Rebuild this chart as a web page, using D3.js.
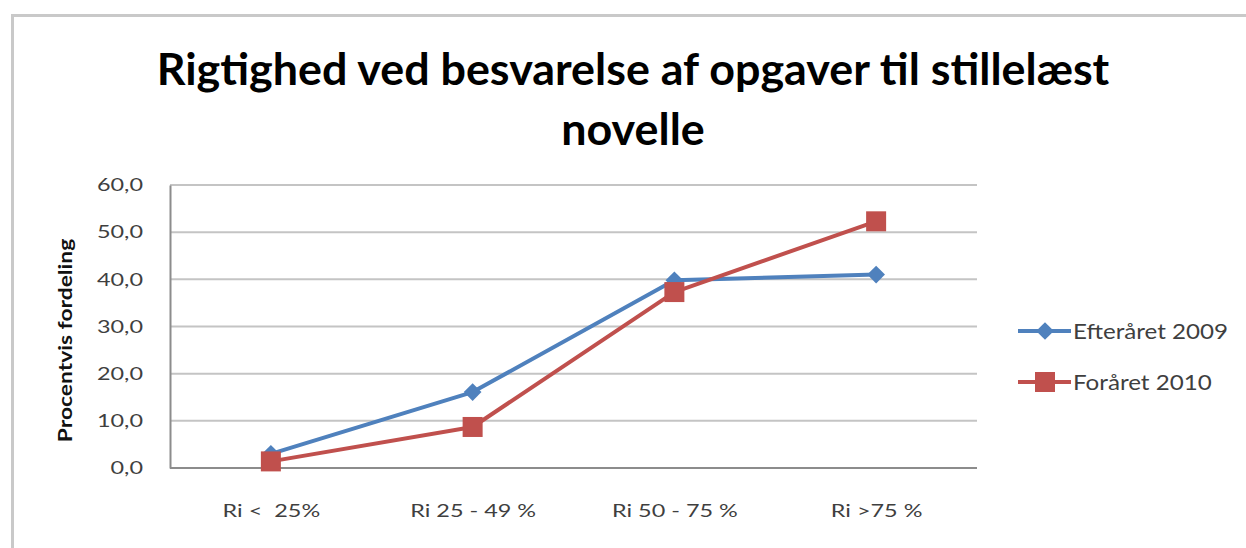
<!DOCTYPE html>
<html>
<head>
<meta charset="utf-8">
<script src="https://cdn.jsdelivr.net/npm/d3@7"></script>
<style>
  html, body { margin: 0; padding: 0; background: #fff; }
  svg { display: block; }
  text { font-family: Lato, "Open Sans", sans-serif; white-space: pre; }
</style>
</head>
<body>
<svg id="chart" width="1246" height="548"></svg>
<script>
// data
const categories = ['Ri <  25%', 'Ri 25 - 49 %', 'Ri 50 - 75 %', 'Ri >75 %']
const efteraaret2009 = [3.0, 16.1, 39.8, 41.0]
const foraaret2010 = [1.4, 8.7, 37.3, 52.3]
const yTicks = [0, 10, 20, 30, 40, 50, 60]
const seriesNames = ['Efteråret 2009', 'Foråret 2010']
const titleLines = ['Rigtighed ved besvarelse af opgaver til stillelæst', 'novelle']

const width = 1246
const height = 548
const plot = { left: 170, right: 977, top: 185, bottom: 468 }
const colors = ['#4f81bd', '#c0504d']
const textGrey = '#3f3f3f'

const svg = d3.select('#chart')

// the source picture is a bit stretched sideways, so widen glyphs to match
function widen (sel, factor) {
  sel.each(function () {
    const len = this.getComputedTextLength()
    d3.select(this)
      .attr('textLength', len * factor)
      .attr('lengthAdjust', 'spacingAndGlyphs')
  })
}

// outer chart frame
svg.append('path')
  .attr('d', `M12.5,${height + 5} L12.5,15.5 L${width + 5},15.5`)
  .attr('fill', 'none')
  .attr('stroke', '#c9c9c9')
  .attr('stroke-width', 3)

// title
const title = svg.append('g')
titleLines.forEach((line, i) => {
  title.append('text')
    .attr('x', 633)
    .attr('y', 85 + i * 60)
    .attr('text-anchor', 'middle')
    .attr('font-size', 40)
    .attr('font-weight', 'bold')
    .attr('fill', '#000')
    .text(line)
})
// scale the title font so the first line spans about as wide as in the picture
const first = title.select('text').node()
const fs = 40 * 953 / first.getComputedTextLength()
title.selectAll('text').attr('font-size', fs)

const x = d3.scalePoint()
  .domain(categories)
  .range([plot.left, plot.right])
  .padding(0.5)

const y = d3.scaleLinear()
  .domain([0, 60])
  .range([plot.bottom, plot.top])

// gridlines
svg.append('g')
  .selectAll('line')
  .data(yTicks.filter(d => d > 0))
  .join('line')
  .attr('x1', plot.left)
  .attr('x2', plot.right)
  .attr('y1', d => y(d))
  .attr('y2', d => y(d))
  .attr('stroke', '#c4c4c4')
  .attr('stroke-width', 2)

// y axis
const yAxis = svg.append('g')
  .attr('transform', `translate(${plot.left},0)`)
  .call(d3.axisLeft(y).tickValues(yTicks).tickSize(0).tickPadding(27)
    .tickFormat(d => d3.format('.1f')(d).replace('.', ',')))
yAxis.select('.domain').attr('stroke', '#8c8c8c').attr('stroke-width', 2)
yAxis.selectAll('text')
  .attr('font-size', 18)
  .attr('fill', textGrey)
  .attr('font-family', 'Lato, sans-serif')
  .call(widen, 1.3)

// x axis
const xAxis = svg.append('g')
  .attr('transform', `translate(0,${plot.bottom})`)
  .call(d3.axisBottom(x).tickSize(0).tickPadding(36))
xAxis.select('.domain').attr('stroke', '#8c8c8c').attr('stroke-width', 2)
  .attr('d', `M${plot.left},0H${plot.right}`)
xAxis.selectAll('text')
  .attr('font-size', 18)
  .attr('fill', textGrey)
  .attr('font-family', 'Lato, sans-serif')
  .call(widen, 1.3)

// y axis title
svg.append('text')
  .attr('transform', `translate(72,${(plot.top + plot.bottom) / 2 + 14}) rotate(-90)`)
  .attr('text-anchor', 'middle')
  .attr('font-size', 19)
  .attr('font-weight', 'bold')
  .attr('fill', '#111')
  .text('Procentvis fordeling')
  .call(widen, 1.2)

const series = [efteraaret2009, foraaret2010]
const line = d3.line()
  .x((d, i) => x(categories[i]))
  .y(d => y(d))

const diamond = d3.symbol().type(d3.symbolDiamond2).size(200)

series.forEach((values, s) => {
  const g = svg.append('g')
  g.append('path')
    .datum(values)
    .attr('d', line)
    .attr('fill', 'none')
    .attr('stroke', colors[s])
    .attr('stroke-width', 4)
    .attr('stroke-linejoin', 'round')
  if (s === 0) {
    g.selectAll('path.mark')
      .data(values)
      .join('path')
      .attr('class', 'mark')
      .attr('d', diamond)
      .attr('transform', (d, i) => `translate(${x(categories[i])},${y(d)})`)
      .attr('fill', colors[s])
  } else {
    g.selectAll('rect')
      .data(values)
      .join('rect')
      .attr('x', (d, i) => x(categories[i]) - 10)
      .attr('y', d => y(d) - 10)
      .attr('width', 20)
      .attr('height', 20)
      .attr('fill', colors[s])
  }
})

// legend
const legend = svg.append('g').attr('transform', 'translate(1018,331)')
seriesNames.forEach((name, i) => {
  const row = legend.append('g').attr('transform', `translate(0,${i * 51})`)
  row.append('line')
    .attr('x1', 0).attr('x2', 53)
    .attr('stroke', colors[i]).attr('stroke-width', 4)
  if (i === 0) {
    row.append('path').attr('d', diamond).attr('transform', 'translate(27,0)').attr('fill', colors[i])
  } else {
    row.append('rect').attr('x', 17).attr('y', -10).attr('width', 20).attr('height', 20).attr('fill', colors[i])
  }
  row.append('text')
    .attr('x', 55)
    .attr('y', 8)
    .attr('font-size', 21)
    .attr('fill', textGrey)
    .text(name)
    .call(widen, 1.15)
})
</script>
</body>
</html>
